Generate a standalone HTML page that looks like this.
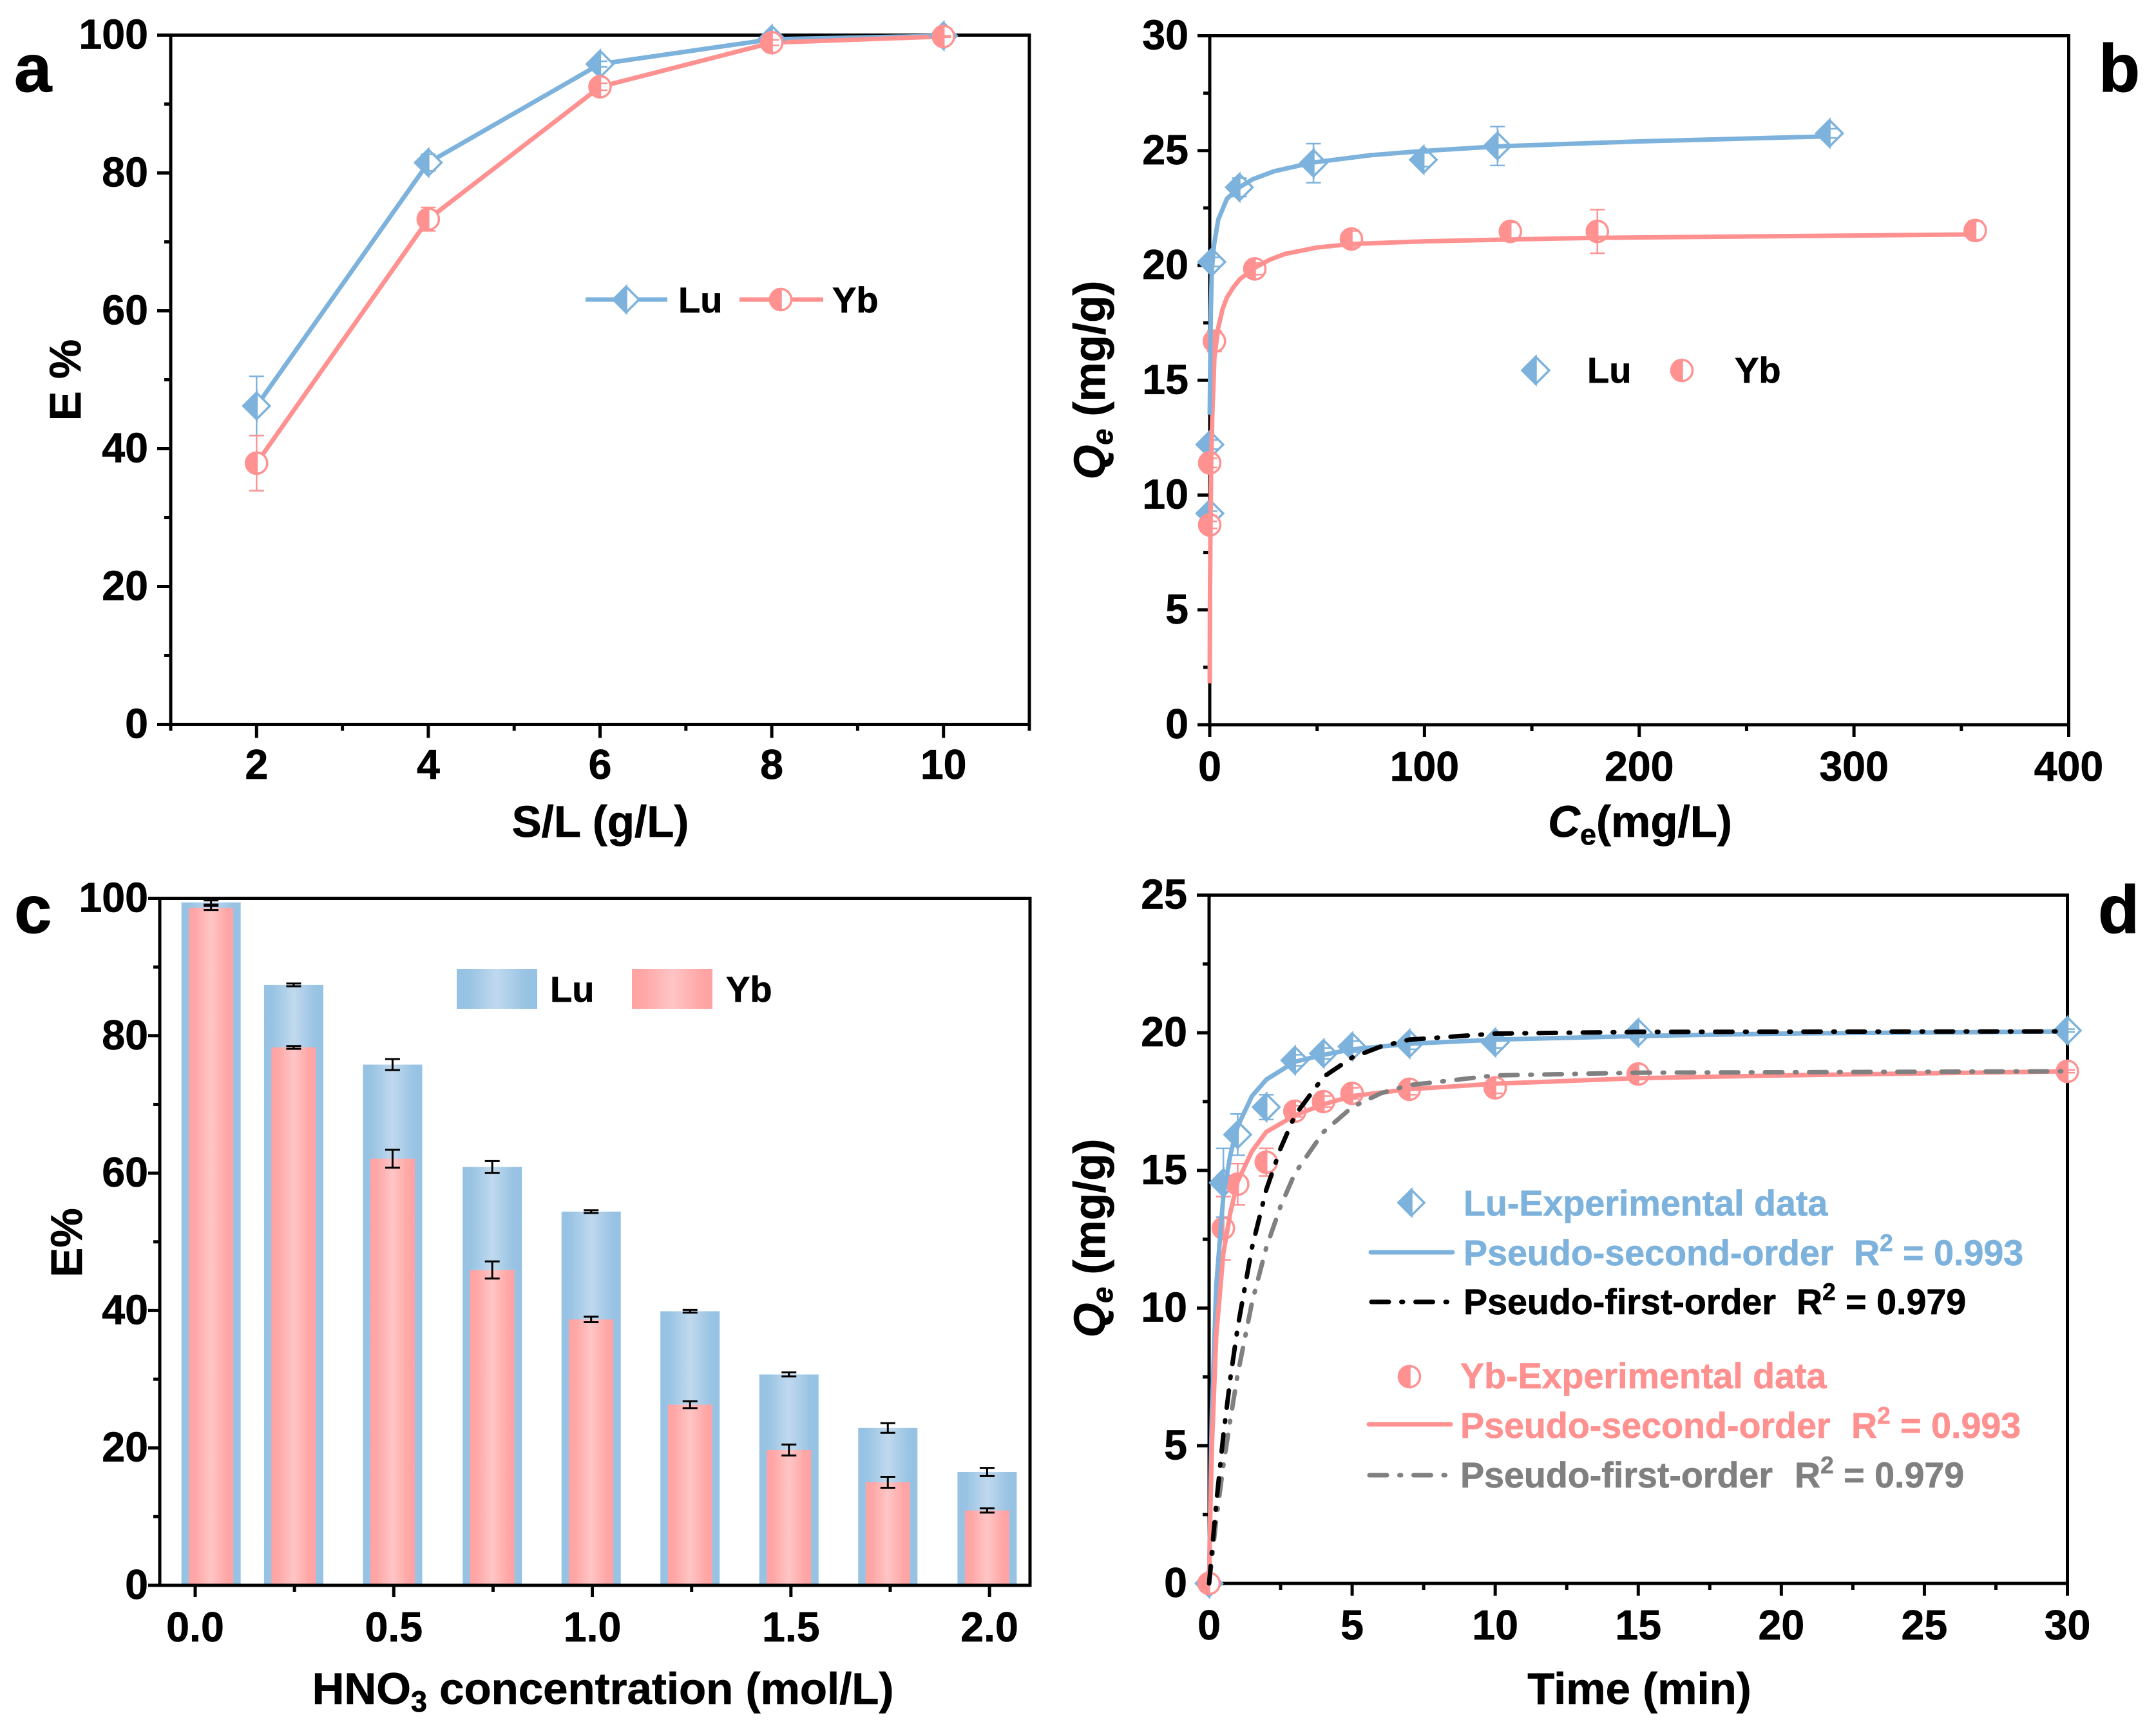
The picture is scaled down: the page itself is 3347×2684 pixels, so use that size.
<!DOCTYPE html>
<html lang="en">
<head>
<meta charset="utf-8">
<title>Extraction performance of Lu and Yb</title>
<style>
html,body{margin:0;padding:0;background:#fff;}
svg{display:block;}
text{font-family:"Liberation Sans",Arial,sans-serif;font-weight:bold;fill:#000;stroke:#000;stroke-width:0.7px;}
.tick{font-size:64.5px;}
.title{font-size:69px;}
.leg{font-size:56px;}
.panel{font-size:105px;stroke-width:1px;}
.fit{font-size:55.6px;white-space:pre;}
.blue{fill:#7db2dc;stroke:#7db2dc;}
.pink{fill:#ff9191;stroke:#ff9191;}
.gray{fill:#808080;stroke:#808080;}
</style>
</head>
<body>
<svg id="fig" xmlns="http://www.w3.org/2000/svg" width="3347" height="2684" viewBox="0 0 3347 2684">
<defs>
<linearGradient id="gradLu" x1="0" x2="1" y1="0" y2="0">
<stop offset="0" stop-color="#96c2e3"/><stop offset="0.14" stop-color="#98c3e3"/><stop offset="0.5" stop-color="#c0d9ee"/><stop offset="0.86" stop-color="#98c3e3"/><stop offset="1" stop-color="#96c2e3"/>
</linearGradient>
<linearGradient id="gradYb" x1="0" x2="1" y1="0" y2="0">
<stop offset="0" stop-color="#ffa3a3"/><stop offset="0.14" stop-color="#ffa6a6"/><stop offset="0.5" stop-color="#ffc5c5"/><stop offset="0.86" stop-color="#ffa6a6"/><stop offset="1" stop-color="#ffa3a3"/>
</linearGradient>
</defs>
<rect width="3347" height="2684" fill="#fff"/>

<g id="panelA"></g>
<g id="panelB"></g>
<g id="panelC"></g>
<g id="panelD"></g>

<!-- panel letters -->
<text class="panel" x="22" y="142">a</text>
<text class="panel" x="3258" y="142">b</text>
<text class="panel" x="22" y="1448">c</text>
<text class="panel" x="3257" y="1448">d</text>

<!-- axis titles -->
<text class="title" x="932" y="1299" text-anchor="middle">S/L (g/L)</text>
<text class="title" transform="translate(125 590) rotate(-90)" text-anchor="middle">E %</text>
<text class="title" x="2546" y="1299" text-anchor="middle"><tspan font-style="italic">C</tspan><tspan font-size="45" dy="12">e</tspan><tspan dy="-12">(mg/L)</tspan></text>
<text class="title" transform="translate(1715 590) rotate(-90)" text-anchor="middle"><tspan font-style="italic">Q</tspan><tspan font-size="45" font-style="italic" dy="12">e</tspan><tspan dy="-12"> (mg/g)</tspan></text>
<text class="title" x="936" y="2645" text-anchor="middle">HNO<tspan font-size="45" dy="12">3</tspan><tspan dy="-12"> concentration (mol/L)</tspan></text>
<text class="title" transform="translate(127 1929) rotate(-90)" text-anchor="middle">E%</text>
<text class="title" x="2545" y="2645" text-anchor="middle">Time (min)</text>
<text class="title" transform="translate(1715 1922) rotate(-90)" text-anchor="middle"><tspan font-style="italic">Q</tspan><tspan font-size="45" font-style="italic" dy="12">e</tspan><tspan dy="-12"> (mg/g)</tspan></text>

<!-- legend a -->
<g>
<line x1="909" y1="465" x2="1036" y2="465" stroke="#7db2dc" stroke-width="7"/>
<polygon points="972,445 992,465 972,485 952,465" fill="#fff" stroke="#7db2dc" stroke-width="3.5"/>
<polygon points="972,445 972,485 952,465" fill="#7db2dc" stroke="#7db2dc" stroke-width="3.5"/>
<text class="leg" x="1053" y="485">Lu</text>
<line x1="1148" y1="465" x2="1278" y2="465" stroke="#ff9191" stroke-width="7"/>
<circle cx="1212" cy="465" r="16.5" fill="#fff" stroke="#ff9191" stroke-width="3.5"/>
<path d="M1212 448.5A16.5 16.5 0 0 0 1212 481.5Z" fill="#ff9191" stroke="#ff9191" stroke-width="3.5"/>
<text class="leg" x="1292" y="485">Yb</text>
</g>

<!-- legend b -->
<g>
<polygon points="2384,554 2405,575 2384,596 2363,575" fill="#fff" stroke="#7db2dc" stroke-width="3.5"/>
<polygon points="2384,554 2384,596 2363,575" fill="#7db2dc" stroke="#7db2dc" stroke-width="3.5"/>
<text class="leg" x="2464" y="594">Lu</text>
<circle cx="2611" cy="575" r="16.5" fill="#fff" stroke="#ff9191" stroke-width="3.5"/>
<path d="M2611 558.5A16.5 16.5 0 0 0 2611 591.5Z" fill="#ff9191" stroke="#ff9191" stroke-width="3.5"/>
<text class="leg" x="2693" y="594">Yb</text>
</g>

<!-- legend c -->
<g>
<rect x="709" y="1504" width="125" height="62" fill="url(#gradLu)"/>
<text class="leg" x="854" y="1555">Lu</text>
<rect x="981" y="1504" width="125" height="62" fill="url(#gradYb)"/>
<text class="leg" x="1127" y="1555">Yb</text>
</g>

<!-- legend d -->
<g>
<polygon points="2191,1847 2211,1867 2191,1887 2171,1867" fill="#fff" stroke="#7db2dc" stroke-width="3.5"/>
<polygon points="2191,1847 2191,1887 2171,1867" fill="#7db2dc" stroke="#7db2dc" stroke-width="3.5"/>
<text class="fit blue" x="2272" y="1887">Lu-Experimental data</text>
<line x1="2128" y1="1944" x2="2255" y2="1944" stroke="#7db2dc" stroke-width="7" stroke-linecap="round"/>
<text class="fit blue" x="2272" y="1964">Pseudo-second-order</text>
<text class="fit blue" x="2878" y="1964">R<tspan font-size="37" dy="-22">2</tspan><tspan dy="22"> = 0.993</tspan></text>
<line x1="2129" y1="2021" x2="2251" y2="2021" stroke="#000" stroke-width="7" stroke-linecap="round" stroke-dasharray="27 19.5 2.5 19.5"/>
<text class="fit" x="2272" y="2040">Pseudo-first-order</text>
<text class="fit" x="2789" y="2040">R<tspan font-size="37" dy="-22">2</tspan><tspan dy="22"> = 0.979</tspan></text>

<circle cx="2188" cy="2137" r="16.5" fill="#fff" stroke="#ff9191" stroke-width="3.5"/>
<path d="M2188 2120.5A16.5 16.5 0 0 0 2188 2153.5Z" fill="#ff9191" stroke="#ff9191" stroke-width="3.5"/>
<text class="fit pink" x="2267" y="2155">Yb-Experimental data</text>
<line x1="2125" y1="2211" x2="2252" y2="2211" stroke="#ff9191" stroke-width="7" stroke-linecap="round"/>
<text class="fit pink" x="2267" y="2232">Pseudo-second-order</text>
<text class="fit pink" x="2874" y="2232">R<tspan font-size="37" dy="-22">2</tspan><tspan dy="22"> = 0.993</tspan></text>
<line x1="2126" y1="2290" x2="2248" y2="2290" stroke="#808080" stroke-width="7" stroke-linecap="round" stroke-dasharray="27 19.5 2.5 19.5"/>
<text class="fit gray" x="2267" y="2309">Pseudo-first-order</text>
<text class="fit gray" x="2786" y="2309">R<tspan font-size="37" dy="-22">2</tspan><tspan dy="22"> = 0.979</tspan></text>
</g>
</svg>

<script>
// ---- Panel a: extraction vs S/L ----
const aCategories = [2, 4, 6, 8, 10];
const aLu = [46.2, 81.5, 95.8, 99.4, 99.9];
const aLuErr = [4.3, 1.2, 0.4, 0.3, 0.1];
const aYb = [37.9, 73.3, 92.5, 98.9, 99.8];
const aYbErr = [4.0, 1.7, 0.5, 0.4, 0.1];
const aXMajor = [2, 4, 6, 8, 10];
const aXMinor = [1, 3, 5, 7, 9, 11];
const aYMajor = [0, 20, 40, 60, 80, 100];
const aYMinor = [10, 30, 50, 70, 90];

// ---- Panel b: isotherm ----
const bLuCe = [0.1, 0.1, 1, 13.8, 48.3, 99.5, 134, 288.6];
const bLuQe = [9.2, 12.2, 20.15, 23.4, 24.45, 24.6, 25.2, 25.75];
const bLuErr = [0.1, 0.2, 0.2, 0.4, 0.85, 0.3, 0.85, 0.2];
const bYbCe = [0, 0, 2.2, 21, 66, 140, 180.5, 356.5];
const bYbQe = [8.7, 11.4, 16.7, 19.85, 21.15, 21.48, 21.48, 21.52];
const bYbErr = [0.15, 0.2, 0.45, 0.25, 0.35, 0.4, 0.95, 0.4];
const bLuFitCe = [0, 0.2, 0.5, 1, 2, 4, 8, 13.8, 20, 30, 48, 75, 99, 134, 200, 288.6];
const bLuFitQe = [13.5, 15.5, 18, 19.8, 20.9, 22, 22.9, 23.4, 23.75, 24.1, 24.48, 24.8, 24.98, 25.18, 25.4, 25.62];
const bYbFitCe = [0, 0.1, 0.3, 0.7, 1.2, 2.2, 4, 6, 8, 11, 14, 21, 28, 35, 50, 66, 100, 140, 180, 356.5];
const bYbFitQe = [1.8, 5, 8, 11.5, 13.5, 16, 17.3, 18.1, 18.6, 19.05, 19.4, 19.9, 20.25, 20.5, 20.78, 20.93, 21.05, 21.13, 21.2, 21.35];
const bXMajor = [0, 100, 200, 300, 400];
const bXMinor = [50, 150, 250, 350];
const bYMajor = [0, 5, 10, 15, 20, 25, 30];
const bYMinor = [2.5, 7.5, 12.5, 17.5, 22.5, 27.5];

// ---- Panel c: stripping vs HNO3 ----
const cPositions = [0.04, 0.248, 0.497, 0.748, 0.997, 1.246, 1.495, 1.744, 1.994];
const cLu = [99.4, 87.4, 75.8, 60.9, 54.4, 39.9, 30.7, 22.9, 16.5];
const cLuErr = [0.3, 0.2, 0.8, 0.85, 0.2, 0.2, 0.3, 0.7, 0.6];
const cYb = [98.6, 78.3, 62.1, 45.9, 38.7, 26.3, 19.7, 15.0, 10.9];
const cYbErr = [0.3, 0.2, 1.3, 1.25, 0.4, 0.5, 0.8, 0.8, 0.3];
const cXMajor = [0, 0.5, 1, 1.5, 2];
const cXMajorLabels = ['0.0', '0.5', '1.0', '1.5', '2.0'];
const cXMinor = [0.25, 0.75, 1.25, 1.75];
const cYMajor = [0, 20, 40, 60, 80, 100];
const cYMinor = [10, 30, 50, 70, 90];

// ---- Panel d: kinetics ----
const dTime = [0, 0.5, 1, 2, 3, 4, 5, 7, 10, 15, 30];
const dLu = [0, 14.55, 16.3, 17.3, 19.0, 19.25, 19.5, 19.6, 19.65, 20.0, 20.08];
const dLuErr = [0, 1.25, 0.75, 0.45, 0.2, 0.2, 0.2, 0.2, 0.2, 0.1, 0.05];
const dYb = [0, 12.9, 14.5, 15.3, 17.15, 17.5, 17.8, 17.95, 18.0, 18.5, 18.6];
const dYbErr = [0, 1.15, 0.75, 0.5, 0.2, 0.2, 0.2, 0.2, 0.2, 0.1, 0.05];
const dSecondTime = [0, 0.05, 0.1, 0.25, 0.5, 0.75, 1, 1.5, 2, 3, 4, 5, 7, 10, 15, 20, 30];
const dLuSecond = [0, 3.6, 6.3, 10.8, 14.1, 15.6, 16.6, 17.7, 18.3, 18.95, 19.2, 19.4, 19.6, 19.75, 19.88, 19.97, 20.05];
const dYbSecond = [0, 2.9, 5, 9, 12, 13.5, 14.6, 15.7, 16.4, 17, 17.4, 17.7, 17.95, 18.15, 18.35, 18.45, 18.6];
const dFirstTime = [0, 0.25, 0.5, 0.75, 1, 1.5, 2, 2.5, 3, 4, 5, 6, 7, 10, 15, 30];
const dLuFirst = [0, 2.9, 5.4, 7.5, 9.3, 12.2, 14.3, 15.8, 17.0, 18.4, 19.1, 19.5, 19.75, 19.97, 20.03, 20.05];
const dYbFirst = [0, 2.3, 4.3, 6.0, 7.6, 10.2, 12.2, 13.7, 14.9, 16.4, 17.3, 17.8, 18.1, 18.45, 18.55, 18.6];
const dXMajor = [0, 5, 10, 15, 20, 25, 30];
const dXMinor = [2.5, 7.5, 12.5, 17.5, 22.5, 27.5];
const dYMajor = [0, 5, 10, 15, 20, 25];
const dYMinor = [2.5, 7.5, 12.5, 17.5, 22.5];

const BLUE = '#7db2dc';
const PINK = '#ff9191';
const GRAY = '#808080';
const DASH = '27 19.5 2.5 19.5';
const NS = 'http://www.w3.org/2000/svg';

function linearAxis(d0, d1, p0, p1) {
  return function (v) { return p0 + (v - d0) / (d1 - d0) * (p1 - p0); };
}

function shape(parent, tag, name, attrs) {
  const node = document.createElementNS(NS, tag);
  for (const k in attrs) node.setAttribute(k, attrs[k]);
  
  
  parent.appendChild(node);
  return node;
}

function label(parent, name, x, y, anchor, str) {
  const node = document.createElementNS(NS, 'text');
  node.setAttribute('class', 'tick');
  node.setAttribute('x', x);
  node.setAttribute('y', y);
  node.setAttribute('text-anchor', anchor);
  node.textContent = str;
  
  
  parent.appendChild(node);
}

function drawAxes(g, id, box, X, Y, opt) {
  const w = opt.width;
  opt.xMajor.forEach(function (v, i) {
    shape(g, 'line', 'x-tick-' + id, {x1: X(v), x2: X(v), y1: box.b, y2: box.b + opt.major, stroke: '#000', 'stroke-width': w});
    label(g, 'x-tick-label-' + id, X(v), opt.xLabelY, 'middle', opt.xLabels ? opt.xLabels[i] : String(v));
  });
  opt.xMinor.forEach(function (v) {
    shape(g, 'line', 'x-minor-tick-' + id, {x1: X(v), x2: X(v), y1: box.b, y2: box.b + opt.minor, stroke: '#000', 'stroke-width': w});
  });
  opt.yMajor.forEach(function (v) {
    shape(g, 'line', 'y-tick-' + id, {x1: box.l - opt.major, x2: box.l, y1: Y(v), y2: Y(v), stroke: '#000', 'stroke-width': w});
    label(g, 'y-tick-label-' + id, opt.yLabelX, Y(v) + 21, 'end', String(v));
  });
  opt.yMinor.forEach(function (v) {
    shape(g, 'line', 'y-minor-tick-' + id, {x1: box.l - opt.minor, x2: box.l, y1: Y(v), y2: Y(v), stroke: '#000', 'stroke-width': w});
  });
  shape(g, 'rect', 'plot-frame-' + id, {x: box.l, y: box.t, width: box.r - box.l, height: box.b - box.t, fill: 'none', stroke: '#000', 'stroke-width': w});
}

function polyline(g, name, xs, ys, X, Y, color, dash) {
  const pts = xs.map(function (v, i) { return X(v).toFixed(1) + ',' + Y(ys[i]).toFixed(1); }).join(' ');
  const attrs = {points: pts, fill: 'none', stroke: color, 'stroke-width': 7, 'stroke-linejoin': 'round'};
  if (dash) {
    attrs['stroke-dasharray'] = dash;
    attrs['stroke-linecap'] = 'round';
  }
  shape(g, 'polyline', name, attrs);
}

function errorBar(g, name, cx, yHi, yLo, color, w) {
  shape(g, 'line', name + '-stem', {x1: cx, x2: cx, y1: yHi, y2: yLo, stroke: color, 'stroke-width': w});
  shape(g, 'line', name + '-cap-top', {x1: cx - 11.5, x2: cx + 11.5, y1: yHi, y2: yHi, stroke: color, 'stroke-width': w});
  shape(g, 'line', name + '-cap-bottom', {x1: cx - 11.5, x2: cx + 11.5, y1: yLo, y2: yLo, stroke: color, 'stroke-width': w});
}

function diamond(g, name, cx, cy) {
  const h = 20.5;
  shape(g, 'polygon', name, {points: [cx, cy - h, cx + h, cy, cx, cy + h, cx - h, cy].join(' '), fill: '#fff', stroke: BLUE, 'stroke-width': 3.5});
  shape(g, 'polygon', name + '-fill', {points: [cx, cy - h, cx, cy + h, cx - h, cy].join(' '), fill: BLUE, stroke: BLUE, 'stroke-width': 3.5});
}

function halfCircle(g, name, cx, cy) {
  const r = 16.5;
  shape(g, 'circle', name, {cx: cx, cy: cy, r: r, fill: '#fff', stroke: PINK, 'stroke-width': 3.5});
  shape(g, 'path', name + '-fill', {d: 'M' + cx + ' ' + (cy - r) + 'A' + r + ' ' + r + ' 0 0 0 ' + cx + ' ' + (cy + r) + 'Z', fill: PINK, stroke: PINK, 'stroke-width': 3.5});
}

function series(g, id, xs, ys, errs, X, Y, color, marker) {
  xs.forEach(function (v, i) {
    const cx = X(v), cy = Y(ys[i]);
    marker(g, id + '-point', cx, cy);
    if (errs[i] > 0) errorBar(g, id + '-error', cx, Y(ys[i] + errs[i]), Y(ys[i] - errs[i]), color, 2.5);
  });
}

// ---- draw panel a ----
(function () {
  const g = document.getElementById('panelA');
  const box = {l: 265, r: 1598, t: 54.5, b: 1124.5};
  const X = linearAxis(1, 11, box.l, box.r);
  const Y = linearAxis(0, 100, box.b, box.t);
  drawAxes(g, 'a', box, X, Y, {width: 5, major: 21, minor: 10, xMajor: aXMajor, xMinor: aXMinor, yMajor: aYMajor, yMinor: aYMinor, xLabelY: 1209, yLabelX: 230});
  polyline(g, 'line-lu', aCategories, aLu, X, Y, BLUE);
  polyline(g, 'line-yb', aCategories, aYb, X, Y, PINK);
  series(g, 'lu', aCategories, aLu, aLuErr, X, Y, BLUE, diamond);
  series(g, 'yb', aCategories, aYb, aYbErr, X, Y, PINK, halfCircle);
})();

// ---- draw panel b ----
(function () {
  const g = document.getElementById('panelB');
  const box = {l: 1878, r: 3211.5, t: 55.5, b: 1125};
  const X = linearAxis(0, 400, box.l, box.r);
  const Y = linearAxis(0, 30, box.b, box.t);
  drawAxes(g, 'b', box, X, Y, {width: 5, major: 19, minor: 10, xMajor: bXMajor, xMinor: bXMinor, yMajor: bYMajor, yMinor: bYMinor, xLabelY: 1212, yLabelX: 1845});
  series(g, 'lu', bLuCe, bLuQe, bLuErr, X, Y, BLUE, diamond);
  series(g, 'yb', bYbCe, bYbQe, bYbErr, X, Y, PINK, halfCircle);
  polyline(g, 'fit-yb', bYbFitCe, bYbFitQe, X, Y, PINK);
  polyline(g, 'fit-lu', bLuFitCe, bLuFitQe, X, Y, BLUE);
})();

// ---- draw panel c ----
(function () {
  const g = document.getElementById('panelC');
  const box = {l: 248, r: 1599, t: 1394.5, b: 2461};
  const X = linearAxis(-0.0892, 2.102, box.l, box.r);
  const Y = linearAxis(0, 100, box.b, box.t);
  const barLu = 92, barYb = 69;
  cPositions.forEach(function (p, i) {
    const cx = X(p);
    shape(g, 'rect', 'bar-lu', {x: cx - barLu / 2, y: Y(cLu[i]), width: barLu, height: Y(0) - Y(cLu[i]), fill: 'url(#gradLu)'});
    shape(g, 'rect', 'bar-yb', {x: cx - barYb / 2, y: Y(cYb[i]), width: barYb, height: Y(0) - Y(cYb[i]), fill: 'url(#gradYb)'});
    errorBar(g, 'error-lu', cx, Y(cLu[i] + cLuErr[i]), Y(cLu[i] - cLuErr[i]), '#000', 3);
    errorBar(g, 'error-yb', cx, Y(cYb[i] + cYbErr[i]), Y(cYb[i] - cYbErr[i]), '#000', 3);
  });
  drawAxes(g, 'c', box, X, Y, {width: 5, major: 18, minor: 10, xMajor: cXMajor, xLabels: cXMajorLabels, xMinor: cXMinor, yMajor: cYMajor, yMinor: cYMinor, xLabelY: 2548, yLabelX: 230});
})();

// ---- draw panel d ----
(function () {
  const g = document.getElementById('panelD');
  const box = {l: 1877, r: 3209.5, t: 1389.5, b: 2458};
  const X = linearAxis(0, 30, box.l, box.r);
  const Y = linearAxis(0, 25, box.b, box.t);
  drawAxes(g, 'd', box, X, Y, {width: 5, major: 19, minor: 10, xMajor: dXMajor, xMinor: dXMinor, yMajor: dYMajor, yMinor: dYMinor, xLabelY: 2545, yLabelX: 1843});
  series(g, 'lu', dTime, dLu, dLuErr, X, Y, BLUE, diamond);
  series(g, 'yb', dTime, dYb, dYbErr, X, Y, PINK, halfCircle);
  polyline(g, 'fit-second-order-lu', dSecondTime, dLuSecond, X, Y, BLUE);
  polyline(g, 'fit-second-order-yb', dSecondTime, dYbSecond, X, Y, PINK);
  polyline(g, 'fit-first-order-yb', dFirstTime, dYbFirst, X, Y, GRAY, DASH);
  polyline(g, 'fit-first-order-lu', dFirstTime, dLuFirst, X, Y, '#000', DASH);
})();
</script>
</body>
</html>
